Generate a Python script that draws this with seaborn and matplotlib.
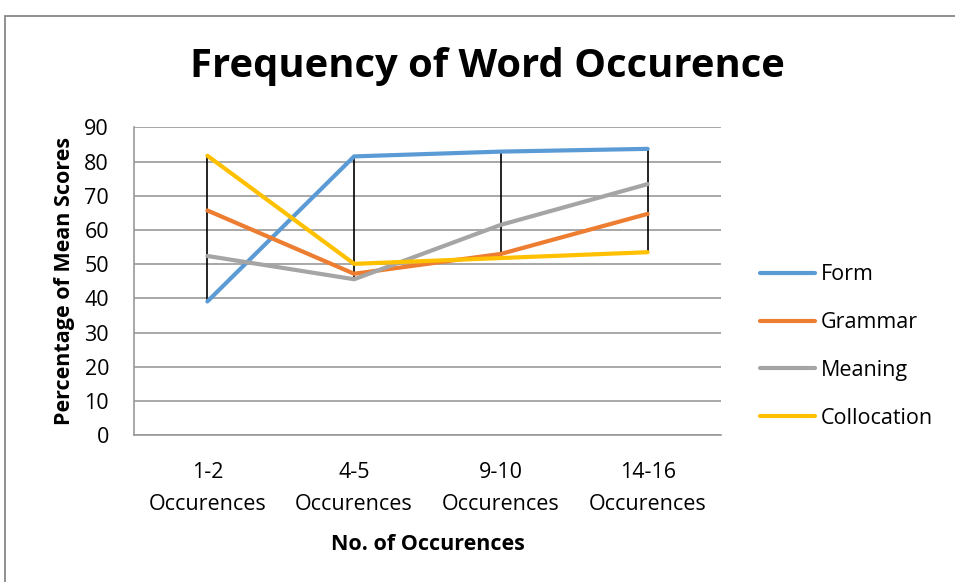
import pandas as pd
import numpy as np
import matplotlib
matplotlib.use("Agg")
import matplotlib.pyplot as plt
import seaborn as sns

# values
categories = ["1-2\nOccurences", "4-5\nOccurences", "9-10\nOccurences", "14-16\nOccurences"]
form = [39.1, 81.5, 82.9, 83.7]
grammar = [65.7, 47.2, 53.0, 64.7]
meaning = [52.4, 45.6, 61.5, 73.4]
collocation = [81.7, 50.1, 51.8, 53.5]
series_names = ["Form", "Grammar", "Meaning", "Collocation"]
colors = ["#5B9BD5", "#ED7D31", "#A5A5A5", "#FFC000"]

df = pd.DataFrame({"Form": form, "Grammar": grammar, "Meaning": meaning,
                   "Collocation": collocation}, index=range(len(categories)))
long_df = df.reset_index().melt(id_vars="index", var_name="Series", value_name="Score")

sns.set_style("white")
plt.rcParams['font.family'] = ['Open Sans', 'DejaVu Sans']
plt.rcParams['text.color'] = 'black'
plt.rcParams['axes.labelcolor'] = 'black'
plt.rcParams['xtick.color'] = 'black'
plt.rcParams['ytick.color'] = 'black'

fs = 15.5

fig = plt.figure(figsize=(9.55, 5.82), dpi=100)
ax = fig.add_axes([134 / 955, 1 - 435.3 / 582, (721 - 134) / 955, (435.3 - 127.3) / 582])

# high-low lines
lows = df.min(axis=1)
highs = df.max(axis=1)
ax.vlines(df.index, lows, highs, color="black", linewidth=1.2, zorder=2)

sns.lineplot(data=long_df, x="index", y="Score", hue="Series", hue_order=series_names,
             palette=colors, linewidth=3, ax=ax, zorder=3)

ax.set_xlim(-0.5, 3.5)
ax.set_ylim(0, 90)
ax.set_yticks(range(0, 91, 10))
ax.set_xticks(range(len(categories)))
ax.set_xticklabels(categories, fontsize=fs, linespacing=1.7)
ax.tick_params(axis="y", labelsize=fs, length=6, width=1.2, color="#999999", pad=12)
ax.tick_params(axis="x", length=0, pad=19)
ax.grid(axis="y", color="#999999", linewidth=1.2)
ax.set_axisbelow(True)
for side in ["top", "right"]:
    ax.spines[side].set_visible(False)
ax.spines["left"].set_color("#999999")
ax.spines["bottom"].set_color("#999999")
ax.spines["left"].set_linewidth(1.2)
ax.spines["bottom"].set_linewidth(1.2)

ax.set_xlabel("No. of Occurences", fontsize=fs, fontweight="bold", labelpad=14)
ax.set_ylabel("Percentage of Mean Scores", fontsize=fs, fontweight="bold", labelpad=7)

fig.text(487 / 955, 1 - 67 / 582, "Frequency of Word Occurence", fontsize=28.8,
         fontweight="bold", ha="center", va="center")

leg = ax.legend(loc="center left", bbox_to_anchor=(741 / 955, 1 - 346.5 / 582),
                bbox_transform=fig.transFigure, frameon=False,
                fontsize=fs, handlelength=2.55, handletextpad=0.25, labelspacing=1.25)
for line in leg.get_lines():
    line.set_linewidth(3)

# outer chart border (top and left visible)
border = plt.Rectangle((4.5 / 955, -0.1), 1.2, 1 - 15.5 / 582 + 0.1, transform=fig.transFigure,
                       fill=False, edgecolor="#888888", linewidth=1.3)
fig.add_artist(border)

fig.savefig("out.png", dpi=100)
